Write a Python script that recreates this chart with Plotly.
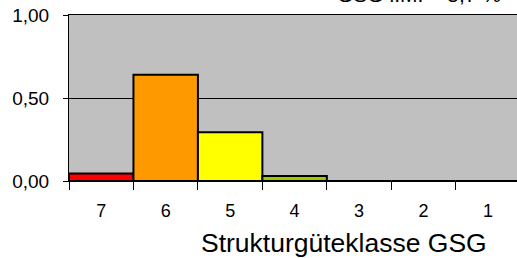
import plotly.graph_objects as go

categories = ["7", "6", "5", "4", "3", "2", "1"]
values = [0.045, 0.64, 0.293, 0.03, 0.0, 0.0, 0.0]
colors = ["#FF0000", "#FF9900", "#FFFF00", "#99CC00", "#00CC00", "#0066FF", "#0000FF"]
y_ticks = [0, 0.5, 1.0]
y_tick_labels = ["0,00", "0,50", "1,00"]
x_title = "Strukturgüteklasse GSG"
top_text = "GSG i.M. = 5,7 %"

fig = go.Figure(go.Bar(
    x=categories, y=values,
    marker=dict(color=colors, line=dict(color="black", width=2)),
    hoverinfo="skip",
))

font = "Liberation Sans, Arial, sans-serif"
fig.update_layout(
    width=517, height=258,
    margin=dict(l=69, r=0, t=15, b=77),
    paper_bgcolor="white", plot_bgcolor="#C0C0C0",
    bargap=0, showlegend=False,
    font=dict(family=font, color="black", size=18),
    xaxis=dict(type="category", range=[-0.5, 6.45], tickson="boundaries",
               ticks="outside", ticklen=8, tickcolor="black", tickwidth=1,
               showline=True, linecolor="black", linewidth=1, mirror=True,
               showgrid=False, tickfont=dict(size=18), ticklabelstandoff=13),
    yaxis=dict(range=[0, 1], tickvals=y_ticks, ticktext=y_tick_labels,
               ticks="outside", ticklen=5, tickcolor="black",
               showline=True, linecolor="black", linewidth=1,
               showgrid=True, gridcolor="black", gridwidth=1, zeroline=False,
               tickfont=dict(size=19), ticklabelstandoff=10),
    annotations=[
        dict(text=x_title, xref="paper", yref="paper", x=0.613, y=-0.373,
             xanchor="center", yanchor="middle", showarrow=False,
             font=dict(size=26.5)),
        dict(text=top_text, xref="paper", yref="paper", x=0.594, y=1.043,
             xanchor="left", yanchor="bottom", showarrow=False,
             font=dict(size=21)),
    ],
)

fig.write_html("out.html", config={"displayModeBar": False, "staticPlot": True},
               post_script="document.body.style.margin='0';document.body.style.overflow='hidden';")
